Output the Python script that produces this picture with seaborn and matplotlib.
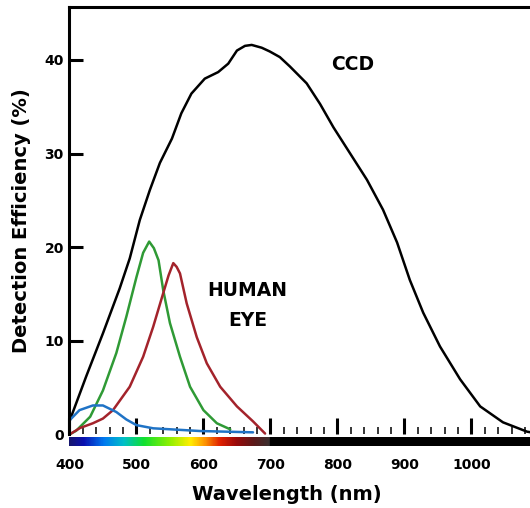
import numpy as np
import matplotlib
matplotlib.use('Agg')
import matplotlib.pyplot as plt
import seaborn as sns
from matplotlib.colors import LinearSegmentedColormap
from matplotlib.ticker import MultipleLocator, FixedLocator

# valores (nm, % eficiencia)
ccd_nm = [400, 425, 450, 475, 490, 505, 520, 535, 553, 567, 582, 602, 622, 637, 650, 662,
          672, 687, 699, 714, 729, 754, 774, 794, 819, 844, 868, 889, 908, 928, 953,
          983, 1013, 1047, 1083, 1100]
ccd_eff = [1.4, 6.2, 10.8, 15.6, 18.8, 22.9, 26.1, 29.0, 31.6, 34.3, 36.4, 38.0, 38.7,
           39.6, 41.0, 41.5, 41.6, 41.3, 40.9, 40.3, 39.3, 37.5, 35.3, 32.8, 30.0, 27.2,
           24.0, 20.5, 16.5, 13.0, 9.4, 5.9, 3.0, 1.3, 0.3, 0.1]

green_nm = [400, 410, 431, 450, 470, 485, 500, 510, 519, 526, 533, 540, 550,
            565, 580, 600, 620, 640]
green_eff = [0, 0.4, 1.9, 4.7, 8.7, 12.6, 16.8, 19.4, 20.6, 19.9, 18.6, 15.4,
             11.9, 8.3, 5.1, 2.6, 1.2, 0.55]

red_nm = [400, 416, 435, 450, 465, 490, 510, 525, 540, 548, 555, 560, 565, 575,
          590, 605, 625, 650, 674, 692]
red_eff = [0, 0.7, 1.2, 1.7, 2.6, 5.1, 8.3, 11.5, 15.1, 17.0, 18.3, 17.9, 17.2,
           14.0, 10.4, 7.6, 5.1, 3.0, 1.4, 0.1]

blue_nm = [400, 415, 435, 450, 470, 485, 500, 525, 595, 674]
blue_eff = [1.5, 2.6, 3.1, 3.1, 2.4, 1.6, 1.0, 0.66, 0.37, 0.23]

x_ticks = [400, 500, 600, 700, 800, 900, 1000]
y_ticks = [0, 10, 20, 30, 40]

sns.set_style('white')
plt.rcParams['font.family'] = ['DejaVu Sans']
plt.rcParams['text.color'] = 'black'
plt.rcParams['xtick.color'] = 'black'
plt.rcParams['ytick.color'] = 'black'
plt.rcParams['axes.labelcolor'] = 'black'

fig = plt.figure(figsize=(5.3, 5.08), dpi=100)
ax = fig.add_axes([0.131, 0.1447, 0.885, 0.8406])

curvas = [(ccd_nm, ccd_eff, 'black'),
          (green_nm, green_eff, '#2f9a35'),
          (red_nm, red_eff, '#a3232b'),
          (blue_nm, blue_eff, '#1f73c6')]
for nm, eff, col in curvas:
    sns.lineplot(x=nm, y=eff, color=col, linewidth=1.8, sort=False, ax=ax)
for ln in ax.lines:
    ln.set_clip_on(False)
    ln.set_solid_capstyle('round')
    ln.set_solid_joinstyle('round')

ax.set_xlim(400, 1100)
ax.set_ylim(0, 45.6)

for s in ['right', 'bottom']:
    ax.spines[s].set_visible(False)
for s in ['left', 'top']:
    ax.spines[s].set_linewidth(2.2)
    ax.spines[s].set_color('black')

ax.xaxis.set_major_locator(FixedLocator(x_ticks))
ax.xaxis.set_minor_locator(MultipleLocator(20))
ax.tick_params(axis='x', which='major', direction='in', length=11.5, width=2.2,
               pad=17, labelsize=10, bottom=True, top=False)
ax.tick_params(axis='x', which='minor', direction='in', length=5, width=1.1,
               bottom=True, top=False)
ax.set_yticks(y_ticks)
ax.tick_params(axis='y', direction='in', length=10, width=2.2, pad=4, labelsize=10,
               left=True)
ax.yaxis.get_major_ticks()[0].tick1line.set_visible(False)
plt.setp(ax.get_xticklabels() + ax.get_yticklabels(), fontweight='bold')

ax.set_xlabel('Wavelength (nm)', fontsize=14, fontweight='bold')
ax.set_ylabel('Detection Efficiency (%)', fontsize=14, fontweight='bold')
ax.xaxis.set_label_coords(0.464, -0.118)
ax.yaxis.set_label_coords(-0.082, 0.5)

ax.text(823, 39.5, 'CCD', ha='center', va='center', fontsize=13.5, fontweight='bold')
ax.text(666, 15.4, 'HUMAN', ha='center', va='center', fontsize=13.5, fontweight='bold')
ax.text(666, 12.2, 'EYE', ha='center', va='center', fontsize=13.5, fontweight='bold')

# barra del espectro visible bajo el eje
espectro = LinearSegmentedColormap.from_list('espectro', [
    (0.00, '#16166e'), (0.07, '#0a10b0'), (0.17, '#0078f0'), (0.27, '#00c0c8'),
    (0.37, '#10e030'), (0.50, '#90f000'), (0.60, '#ffee00'), (0.67, '#ff9a00'),
    (0.75, '#e02000'), (0.83, '#9a0a0a'), (0.92, '#5a1a1a'), (1.00, '#383030')])
cax = fig.add_axes([0.131, 0.122, 0.885, 0.0177])
grad = np.linspace(0, 1, 300).reshape(1, -1)
cax.imshow(grad, cmap=espectro, aspect='auto', extent=[400, 700, 0, 1])
cax.axvspan(700, 1100, color='black')
cax.set_xlim(400, 1100)
cax.set_ylim(0, 1)
cax.axis('off')

fig.savefig('out.png', dpi=100)
